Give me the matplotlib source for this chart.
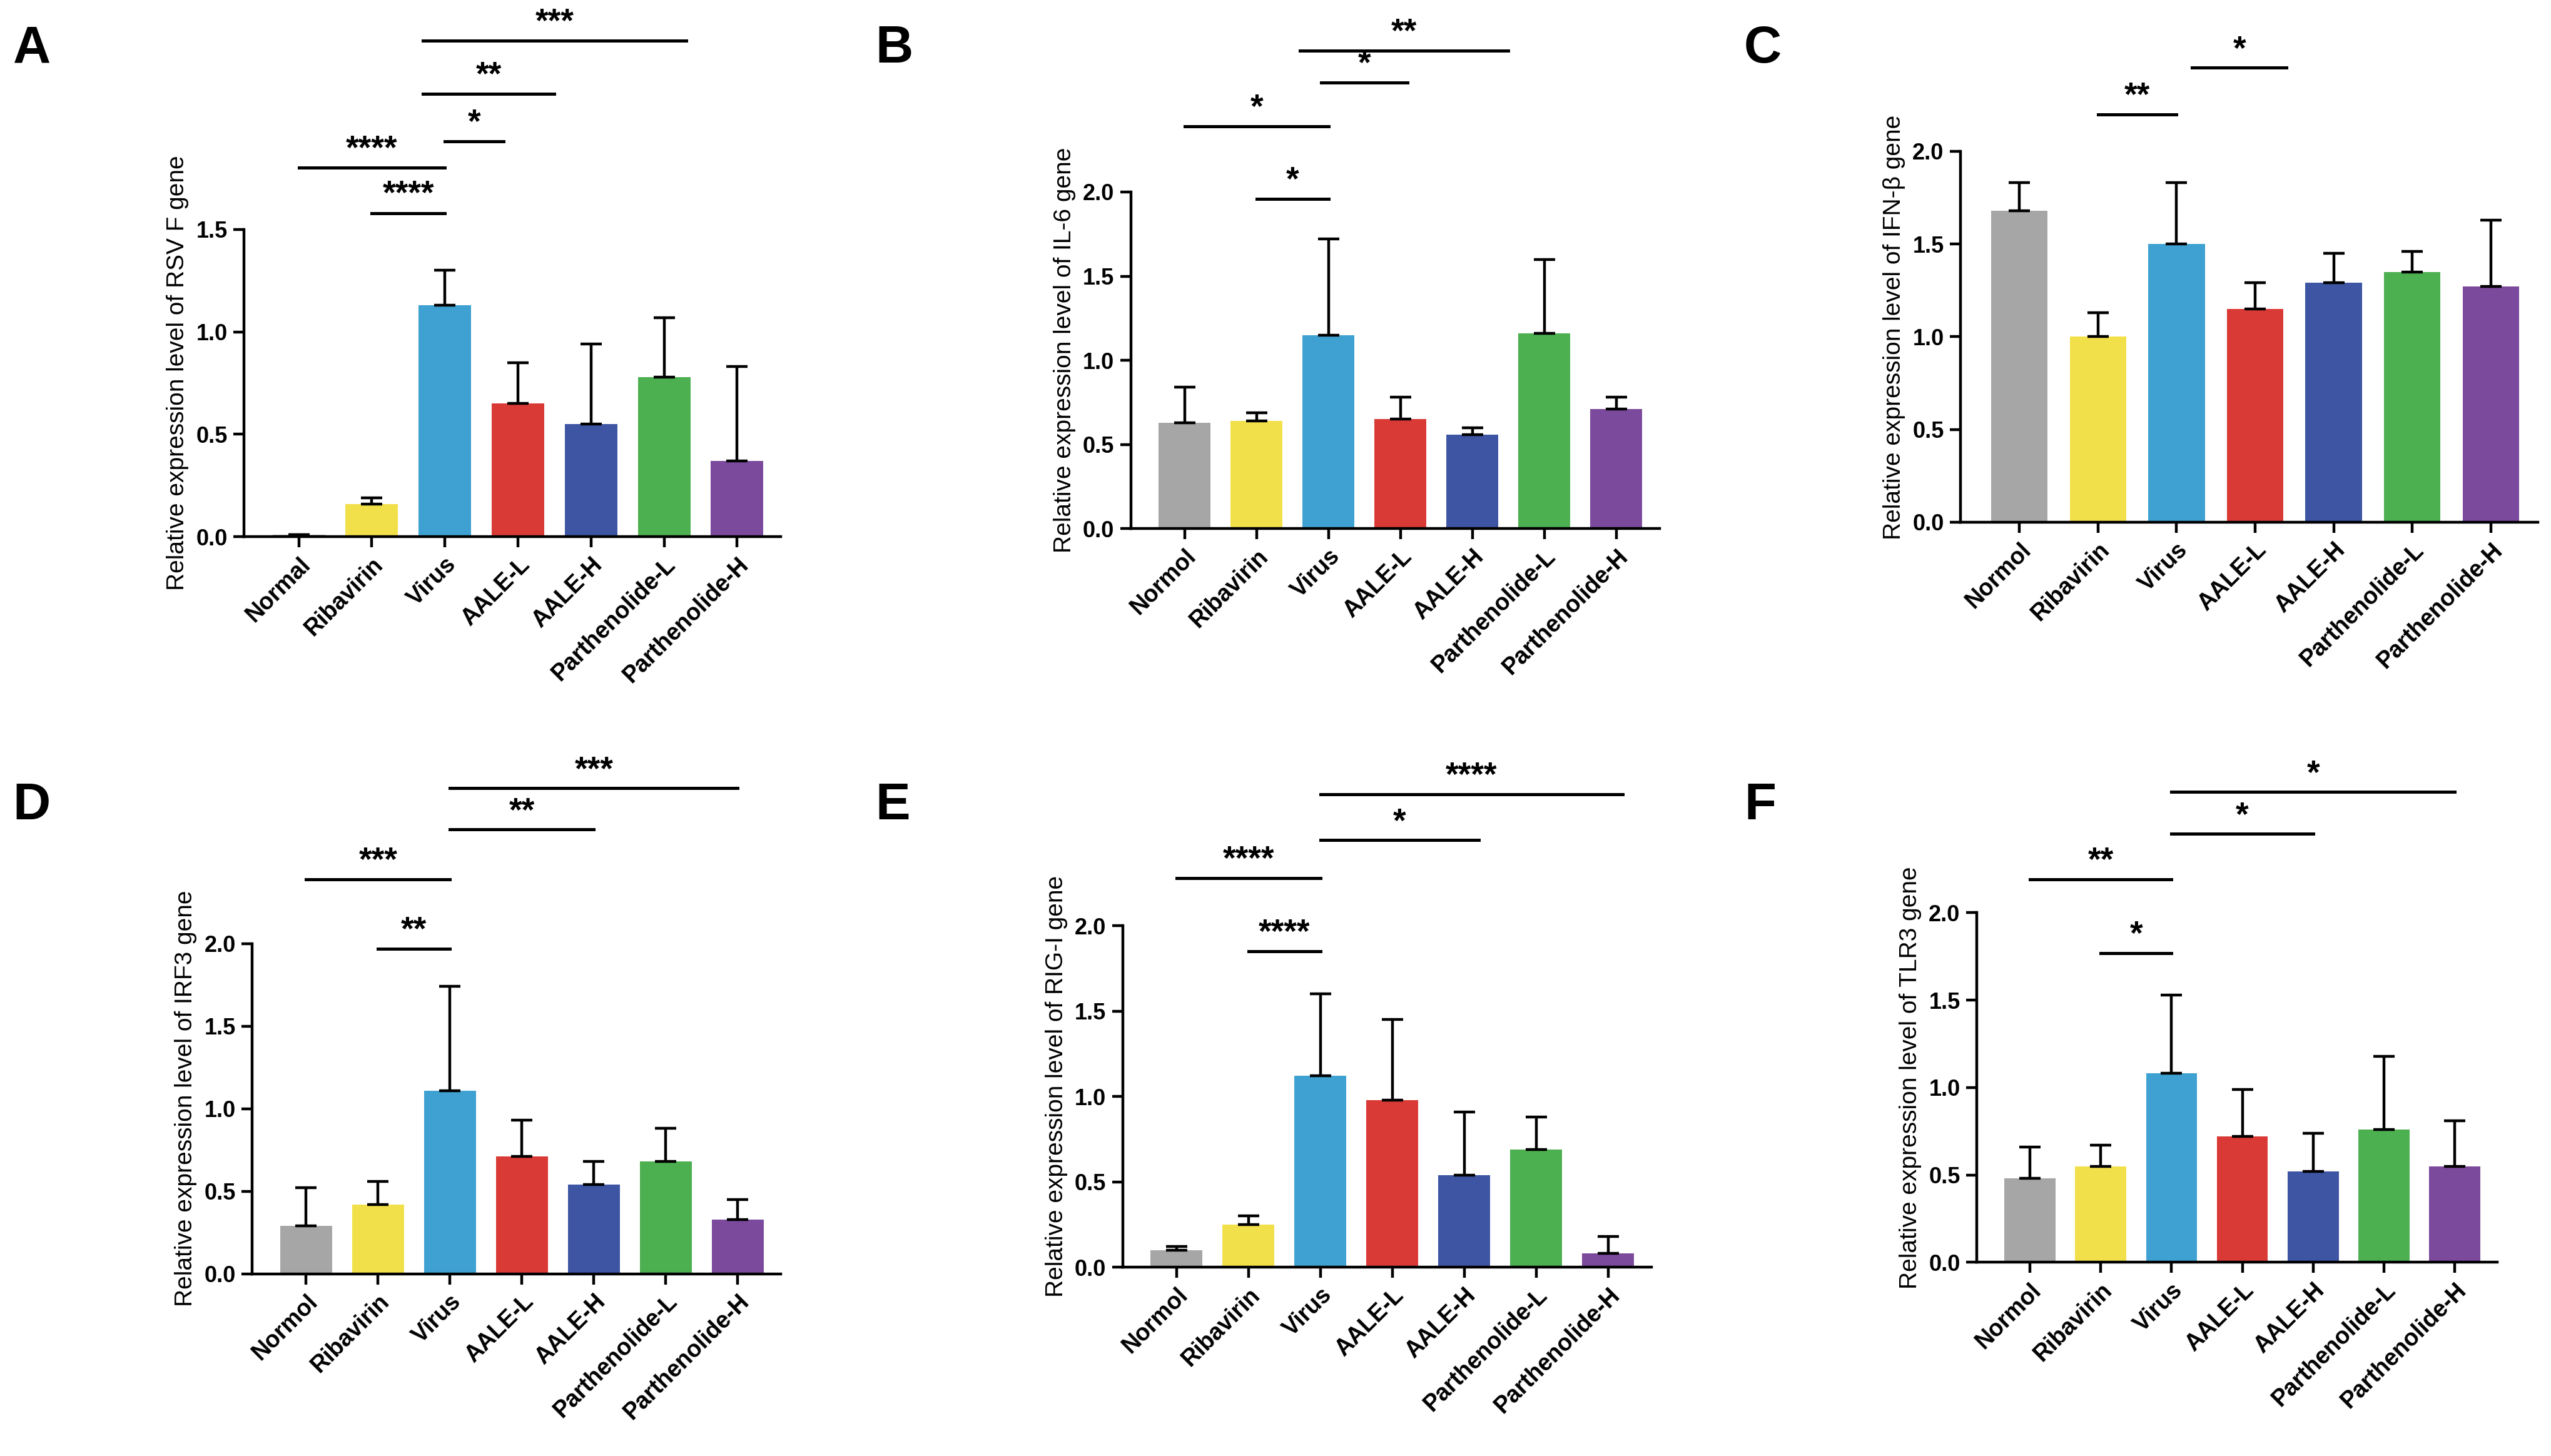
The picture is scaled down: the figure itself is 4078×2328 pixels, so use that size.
import matplotlib
matplotlib.use("Agg")
import matplotlib.pyplot as plt

plt.rcParams['font.family'] = ['Liberation Sans', 'DejaVu Sans']

groups_A = ["Normal", "Ribavirin", "Virus", "AALE-L", "AALE-H", "Parthenolide-L", "Parthenolide-H"]
groups = ["Normol", "Ribavirin", "Virus", "AALE-L", "AALE-H", "Parthenolide-L", "Parthenolide-H"]
colors = ["#a6a6a6", "#f2e04b", "#3fa1d1", "#d93a35", "#3d55a3", "#4caf50", "#7b4a9c"]

A_mean = [0.01, 0.16, 1.13, 0.65, 0.55, 0.78, 0.37]
A_err = [0.0, 0.03, 0.17, 0.20, 0.39, 0.29, 0.46]
B_mean = [0.63, 0.64, 1.15, 0.65, 0.56, 1.16, 0.71]
B_err = [0.21, 0.05, 0.57, 0.13, 0.04, 0.44, 0.07]
C_mean = [1.68, 1.00, 1.50, 1.15, 1.29, 1.35, 1.27]
C_err = [0.15, 0.13, 0.33, 0.14, 0.16, 0.11, 0.36]
D_mean = [0.29, 0.42, 1.11, 0.71, 0.54, 0.68, 0.33]
D_err = [0.23, 0.14, 0.63, 0.22, 0.14, 0.20, 0.12]
E_mean = [0.10, 0.25, 1.12, 0.98, 0.54, 0.69, 0.08]
E_err = [0.02, 0.05, 0.48, 0.47, 0.37, 0.19, 0.10]
F_mean = [0.48, 0.55, 1.08, 0.72, 0.52, 0.76, 0.55]
F_err = [0.18, 0.12, 0.45, 0.27, 0.22, 0.42, 0.26]

# brackets: (x1, x2, y, label)
A_sig = [(1, 2, 1.58, "****"), (0, 2, 1.80, "****"), (2, 2.8, 1.93, "*"), (1.7, 3.5, 2.16, "**"), (1.7, 5.3, 2.42, "***")]
B_sig = [(1, 2, 1.96, "*"), (0, 2, 2.39, "*"), (1.9, 3.1, 2.65, "*"), (1.6, 4.5, 2.84, "**")]
C_sig = [(1, 2, 2.20, "**"), (2.2, 3.4, 2.45, "*")]
D_sig = [(1, 2, 1.97, "**"), (0, 2, 2.39, "***"), (2, 4, 2.69, "**"), (2, 6, 2.94, "***")]
E_sig = [(1, 2, 1.85, "****"), (0, 2, 2.28, "****"), (2, 4.2, 2.50, "*"), (2, 6.2, 2.77, "****")]
F_sig = [(1, 2, 1.77, "*"), (0, 2, 2.19, "**"), (2, 4, 2.45, "*"), (2, 6, 2.69, "*")]

W, H = 1568.0, 895.0
panels = [
    ("A", groups_A, A_mean, A_err, A_sig, "Relative expression level of RSV F gene", 1.5, [0, 0.5, 1.0, 1.5], 150, 480, 330, 126, 2.55),
    ("B", groups, B_mean, B_err, B_sig, "Relative expression level of IL-6 gene", 2.0, [0, 0.5, 1.0, 1.5, 2.0], 695, 1020, 325, 103.5, 2.95),
    ("C", groups, C_mean, C_err, C_sig, "Relative expression level of IFN-β gene", 2.0, [0, 0.5, 1.0, 1.5, 2.0], 1205, 1560, 321, 114, 2.6),
    ("D", groups, D_mean, D_err, D_sig, "Relative expression level of IRF3 gene", 2.0, [0, 0.5, 1.0, 1.5, 2.0], 155, 480, 783, 101.5, 3.05),
    ("E", groups, E_mean, E_err, E_sig, "Relative expression level of RIG-I gene", 2.0, [0, 0.5, 1.0, 1.5, 2.0], 690, 1015, 779, 105, 2.9),
    ("F", groups, F_mean, F_err, F_sig, "Relative expression level of TLR3 gene", 2.0, [0, 0.5, 1.0, 1.5, 2.0], 1215, 1535, 776, 107.5, 2.85),
]
letter_pos = {"A": (8, 30), "B": (538, 30), "C": (1072, 30), "D": (8, 495), "E": (538, 495), "F": (1072, 495)}

fig = plt.figure(figsize=(20.39, 11.64), dpi=200)
fig.patch.set_facecolor("white")
for (lab, gl, m, e, sig, ylab, top, ticks, x0, x1, y0, ppu, ymax) in panels:
    ax = fig.add_axes([x0 / W, 1 - y0 / H, (x1 - x0) / W, ymax * ppu / H])
    x = list(range(len(gl)))
    ax.bar(x, m, width=0.72, color=colors, yerr=[[0] * len(e), e],
           error_kw=dict(ecolor="black", elinewidth=1.6, capsize=6, capthick=1.6))
    ax.set_xlim(-0.75, 6.6)
    ax.set_ylim(0, ymax)
    ax.set_yticks(ticks)
    ax.set_yticklabels([f"{t:.1f}" for t in ticks], fontsize=13, fontweight="bold")
    ax.set_xticks(x)
    ax.set_xticklabels(gl, rotation=45, ha="right", rotation_mode="anchor", fontsize=13.5, fontweight="bold")
    for s in ["top", "right"]:
        ax.spines[s].set_visible(False)
    ax.spines["left"].set_bounds(0, top)
    for s in ["left", "bottom"]:
        ax.spines[s].set_linewidth(1.6)
    ax.tick_params(width=1.6, length=6)
    ax.set_ylabel(ylab, fontsize=14, y=top / ymax / 2 + 0.02,
                  family=['Liberation Sans Narrow', 'Liberation Sans', 'DejaVu Sans'])
    for (a, b, y, t) in sig:
        ax.plot([a, b], [y, y], color="black", lw=1.8, clip_on=False)
        ax.text((a + b) / 2, y + 0.01, t, ha="center", va="bottom", fontsize=19, fontweight="bold")
    lx, ly = letter_pos[lab]
    fig.text(lx / W, 1 - ly / H, lab, fontsize=30, fontweight="bold", va="center")

fig.savefig("out.png", dpi=200, facecolor="white")
